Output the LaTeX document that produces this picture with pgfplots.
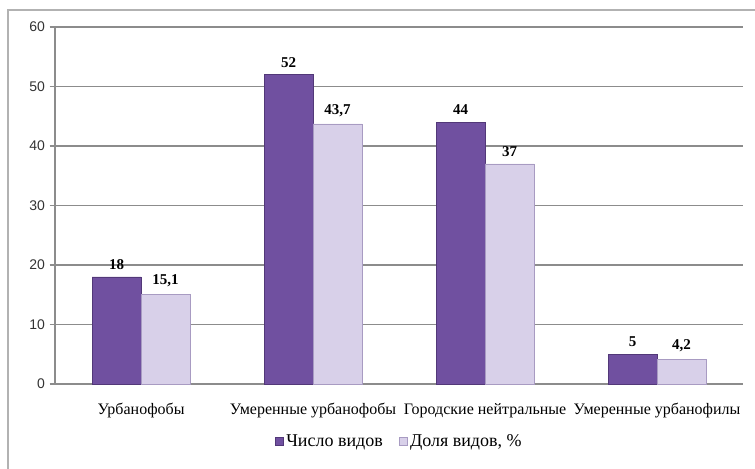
\documentclass[border=0pt]{standalone}
\usepackage{pgfplots}
\pgfplotsset{compat=1.18}
\usepackage{fontspec}
\setmainfont{Liberation Serif}
\newfontfamily\arial{Liberation Sans}
\definecolor{purp}{HTML}{7050A0}
\definecolor{purpedge}{HTML}{523878}
\definecolor{lav}{HTML}{D8D0E9}
\definecolor{lavedge}{HTML}{A89BC2}
\definecolor{gridc}{HTML}{8C8C8C}
\begin{document}
\begin{tikzpicture}
\path[use as bounding box] (0pt,0pt) rectangle (566.25pt,351pt);
\draw[gray!60, line width=0.9pt] (6pt,-5pt) -- (6pt,343.5pt) -- (575pt,343.5pt);
\begin{axis}[
  at={(41.25pt,63pt)}, anchor=south west,
  scale only axis,
  width=516pt, height=267.75pt,
  xmin=0, xmax=4, ymin=0, ymax=60,
  ytick={0,10,...,60},
  xtick={0.5,1.5,2.5,3.5},
  xticklabels={Урбанофобы, Умеренные урбанофобы, Городские нейтральные, Умеренные урбанофилы},
  x tick label style={font=\fontsize{12}{14}\selectfont, text=black, yshift=-7pt},
  y tick label style={font=\arial\fontsize{10.5}{12}\selectfont, text=black!80},
  /pgf/number format/assume math mode=true,
  extra x ticks={0,1,2,3,4},
  extra x tick labels={},
  extra x tick style={major tick length=4pt, tick style={gridc}, grid=none},
  axis x line*=bottom, axis y line*=left,
  axis line style={gridc, line width=0.8pt, -},
  x axis line style={-}, y axis line style={-},
  major tick length=4pt,
  xtick style={draw=none},
  ytick style={gridc, line width=0.8pt},
  tick align=outside,
  ymajorgrids, grid style={gridc, line width=0.8pt},
  ybar=0pt, bar width=36.75pt,
  nodes near coords,
  every node near coord/.append style={font=\bfseries\fontsize{11.25}{13}\selectfont, text=black, yshift=2pt},
  /pgf/number format/use comma,
  legend style={at={(0.501,-0.16)}, anchor=center, draw=none, legend columns=2,
    font=\fontsize{13.5}{15}\selectfont, /tikz/every even column/.append style={column sep=10pt}},
  legend image code/.code={\draw[#1] (0pt,-3pt) rectangle (6pt,3pt);},
]
\addplot[fill=purp, draw=purpedge] coordinates {(0.5,18) (1.5,52) (2.5,44) (3.5,5)};
\addplot[fill=lav, draw=lavedge] coordinates {(0.5,15.1) (1.5,43.7) (2.5,37) (3.5,4.2)};
\legend{Число видов, {Доля видов, \%}}
\end{axis}
\end{tikzpicture}
\end{document}
